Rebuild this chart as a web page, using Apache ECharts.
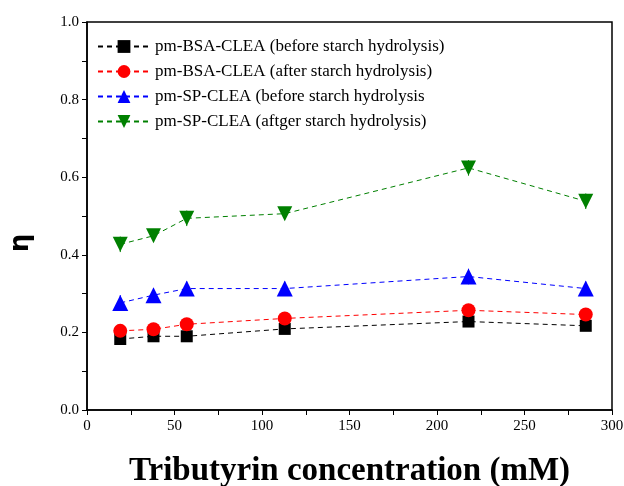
<!DOCTYPE html>
<html>
<head>
<meta charset="utf-8">
<script src="https://cdn.jsdelivr.net/npm/echarts@6/dist/echarts.min.js"></script>
<style>
  html, body { margin: 0; padding: 0; background: #fff; }
  #main { width: 624px; height: 486px; }
</style>
</head>
<body>
<div id="main"></div>
<script>
  // tributyrin concentration (mM)
  var concentrations = [19, 38, 57, 113, 218, 285];

  var seriesNames = [
    'pm-BSA-CLEA (before starch hydrolysis)',
    'pm-BSA-CLEA (after starch hydrolysis)',
    'pm-SP-CLEA (before starch hydrolysis',
    'pm-SP-CLEA (aftger starch hydrolysis)'
  ];

  var bsaBefore = [0.183, 0.190, 0.190, 0.209, 0.228, 0.217];
  var bsaAfter = [0.204, 0.208, 0.221, 0.236, 0.257, 0.246];
  var spBefore = [0.276, 0.296, 0.313, 0.313, 0.344, 0.313];
  var spAfter = [0.427, 0.449, 0.494, 0.506, 0.624, 0.538];

  // error bars (estimated)
  var bsaBeforeErr = [0.008, 0.006, 0.006, 0.006, 0.008, 0.006];
  var bsaAfterErr = [0.006, 0.006, 0.006, 0.006, 0.006, 0.006];
  var spBeforeErr = [0.02, 0.018, 0.018, 0.018, 0.02, 0.018];
  var spAfterErr = [0.02, 0.015, 0.02, 0.012, 0.02, 0.02];

  var colors = ['#000000', '#ff0000', '#0000ff', '#008000'];
  var symbols = ['rect', 'circle', 'triangle', 'path://M0,0 L10,0 L5,9 Z'];
  var symbolSizes = [12, 14, 16, 15];

  var allValues = [bsaBefore, bsaAfter, spBefore, spAfter];
  var allErrs = [bsaBeforeErr, bsaAfterErr, spBeforeErr, spAfterErr];

  var serif = '"Liberation Serif", "DejaVu Serif", serif';

  var chart = echarts.init(document.getElementById('main'));

  function pairs(vals) {
    return concentrations.map(function (x, i) { return [x, vals[i]]; });
  }

  var series = [];
  // error bars first so markers cover them
  allValues.forEach(function (vals, k) {
    series.push({
      type: 'custom',
      silent: true,
      z: 1,
      data: concentrations.map(function (x, i) { return [x, vals[i], allErrs[k][i]]; }),
      renderItem: function (params, api) {
        var x = api.value(0), y = api.value(1), e = api.value(2);
        var p1 = api.coord([x, y - e]);
        var p2 = api.coord([x, y + e]);
        return {
          type: 'line',
          shape: { x1: p1[0], y1: p1[1], x2: p2[0], y2: p2[1] },
          style: { stroke: colors[k], lineWidth: 1 }
        };
      }
    });
  });
  allValues.forEach(function (vals, k) {
    series.push({
      name: seriesNames[k],
      type: 'line',
      z: 3,
      data: pairs(vals),
      symbol: symbols[k],
      symbolSize: symbolSizes[k],
      showAllSymbol: true,
      color: colors[k],
      itemStyle: { color: colors[k], borderWidth: 0 },
      lineStyle: { color: colors[k], width: 1, type: [5, 4] },
      animation: false
    });
  });

  var option = {
    animation: false,
    backgroundColor: '#fff',
    grid: {
      left: 87, right: 12, top: 22, bottom: 76,
      outerBoundsMode: 'none',
      containLabel: false,
      show: true, borderColor: '#000', borderWidth: 1.5
    },
    legend: {
      data: seriesNames,
      orient: 'vertical',
      left: 92,
      top: 33,
      itemWidth: 52,
      itemHeight: 16,
      itemGap: 8,
      textStyle: { fontFamily: serif, fontSize: 17, color: '#000' }
    },
    graphic: [{
      type: 'text',
      x: 21,
      y: 243,
      rotation: Math.PI / 2,
      style: {
        text: 'η',
        font: 'bold 26px "DejaVu Sans", sans-serif',
        fill: '#000',
        align: 'center',
        verticalAlign: 'middle'
      }
    }],
    xAxis: {
      type: 'value',
      min: 0, max: 300, interval: 50,
      name: 'Tributyrin concentration (mM)',
      nameLocation: 'middle',
      nameGap: 45,
      nameTextStyle: { fontFamily: serif, fontSize: 33, fontWeight: 'bold', color: '#000' },
      axisLine: { lineStyle: { color: '#000', width: 1.5 } },
      axisTick: { show: true, length: 5, lineStyle: { color: '#000' } },
      minorTick: { show: true, splitNumber: 2, length: 5, lineStyle: { color: '#000' } },
      axisLabel: { fontFamily: serif, fontSize: 15, color: '#000', margin: 9 },
      splitLine: { show: false }
    },
    yAxis: {
      type: 'value',
      min: 0, max: 1, interval: 0.2,
      axisLine: { show: true, lineStyle: { color: '#000', width: 1.5 } },
      axisTick: { show: true, length: 5, lineStyle: { color: '#000' } },
      minorTick: { show: true, splitNumber: 2, length: 5, lineStyle: { color: '#000' } },
      axisLabel: {
        fontFamily: serif, fontSize: 15, color: '#000', margin: 8,
        formatter: function (v) { return v.toFixed(1); }
      },
      splitLine: { show: false }
    },
    series: series
  };

  chart.setOption(option);
</script>
</body>
</html>
